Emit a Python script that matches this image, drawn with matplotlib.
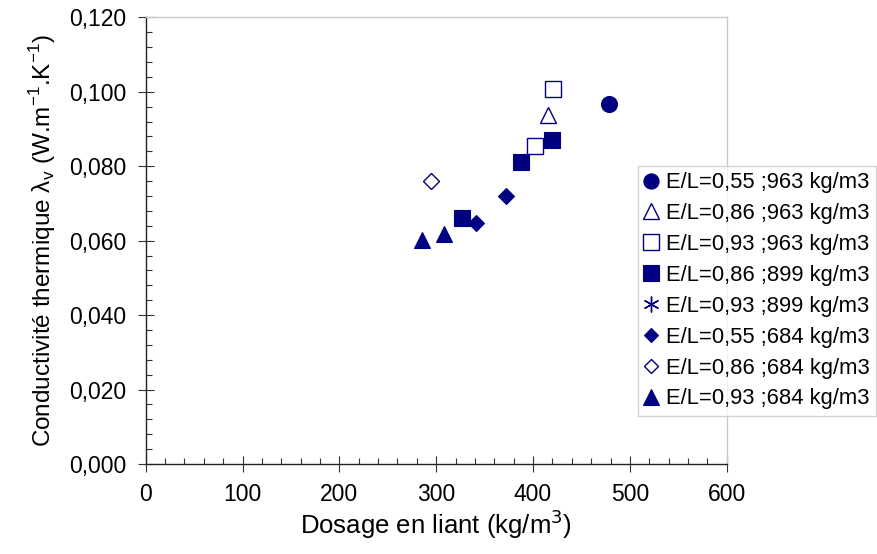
import numpy as np
import matplotlib
matplotlib.use("Agg")
import matplotlib.pyplot as plt
from matplotlib.ticker import MultipleLocator, FuncFormatter

plt.rcParams['font.family'] = ['Liberation Sans', 'DejaVu Sans']

# data (dosage kg/m3, conductivity W/m.K)
labels = ['E/L=0,55 ;963 kg/m3', 'E/L=0,86 ;963 kg/m3', 'E/L=0,93 ;963 kg/m3',
          'E/L=0,86 ;899 kg/m3', 'E/L=0,93 ;899 kg/m3', 'E/L=0,55 ;684 kg/m3',
          'E/L=0,86 ;684 kg/m3', 'E/L=0,93 ;684 kg/m3']
x_055_963 = [478.5]
y_055_963 = [0.0966]
x_086_963 = [415.3]
y_086_963 = [0.0938]
x_093_963 = [421.0, 402.0]
y_093_963 = [0.1007, 0.0854]
x_086_899 = [419.4, 387.4, 326.4]
y_086_899 = [0.0870, 0.0811, 0.0660]
x_093_899 = []
y_093_899 = []
x_055_684 = [372.5, 341.0]
y_055_684 = [0.0721, 0.0648]
x_086_684 = [295.0]
y_086_684 = [0.0759]
x_093_684 = [285.7, 308.5]
y_093_684 = [0.0601, 0.0618]

navy = '#000080'
series = [
    (x_055_963, y_055_963, 'o', 11.5, True),
    (x_086_963, y_086_963, '^', 11.5, False),
    (x_093_963, y_093_963, 's', 11.5, False),
    (x_086_899, y_086_899, 's', 11.5, True),
    (x_093_899, y_093_899, 'x', 12, True),
    (x_055_684, y_055_684, 'D', 8.0, True),
    (x_086_684, y_086_684, 'D', 8.0, False),
    (x_093_684, y_093_684, '^', 11.5, True),
]

fig = plt.figure(figsize=(8.77, 5.54), dpi=100)
ax = fig.add_axes([145.7 / 877, 1 - 464 / 554, 581 / 877, 446.7 / 554])

handles = []
for (xs, ys, m, ms, filled), lab in zip(series, labels):
    if m == 'x':
        # asterisk marker (x with a vertical bar)
        h, = ax.plot(xs, ys, linestyle='none', marker=(6, 2, 0), markersize=ms,
                     color=navy, markeredgewidth=1.0, label=lab)
    elif filled:
        h, = ax.plot(xs, ys, linestyle='none', marker=m, markersize=ms,
                     markerfacecolor=navy, markeredgecolor=navy, markeredgewidth=0.8, label=lab)
    else:
        h, = ax.plot(xs, ys, linestyle='none', marker=m, markersize=ms,
                     markerfacecolor='white', markeredgecolor=navy, markeredgewidth=1.0, label=lab)
    handles.append(h)

ax.set_xlim(0, 600)
ax.set_ylim(0, 0.120)
ax.xaxis.set_major_locator(MultipleLocator(100))
ax.xaxis.set_minor_locator(MultipleLocator(20))
ax.yaxis.set_major_locator(MultipleLocator(0.02))
ax.yaxis.set_minor_locator(MultipleLocator(0.004))
ax.yaxis.set_major_formatter(FuncFormatter(lambda v, p: f'{v:.3f}'.replace('.', ',')))

ax.tick_params(which='major', direction='inout', length=12, width=0.8, color='#333333',
               labelsize=16.5)
ax.tick_params(which='minor', direction='in', length=4, width=0.8, color='#333333')
ax.tick_params(axis='y', which='major', pad=8)
ax.tick_params(axis='x', which='major', pad=8)

for s in ['left', 'bottom']:
    ax.spines[s].set_color('#222222')
    ax.spines[s].set_linewidth(1.0)
for s in ['top', 'right']:
    ax.spines[s].set_color('#c8c8c8')
    ax.spines[s].set_linewidth(1.0)

ax.set_xlabel('Dosage en liant (kg/m$^3$)', fontsize=18.5, labelpad=1)
ax.set_ylabel('Conductivité thermique λ$_\\mathregular{v}$ (W.m$^\\mathregular{-1}$.K$^\\mathregular{-1}$)',
              fontsize=17.5, labelpad=8)

leg = fig.legend(handles=handles, loc='upper left',
                 bbox_to_anchor=(638.3 / 877, 1 - 165.7 / 554),
                 fontsize=15.8, frameon=True, fancybox=False, borderpad=0.3,
                 handlelength=0.6, handletextpad=0.36, labelspacing=0.45,
                 borderaxespad=0, markerscale=0.95)
leg.get_frame().set_edgecolor('#c8c8c8')
leg.get_frame().set_linewidth(1.0)

fig.savefig('out.png', dpi=100)
